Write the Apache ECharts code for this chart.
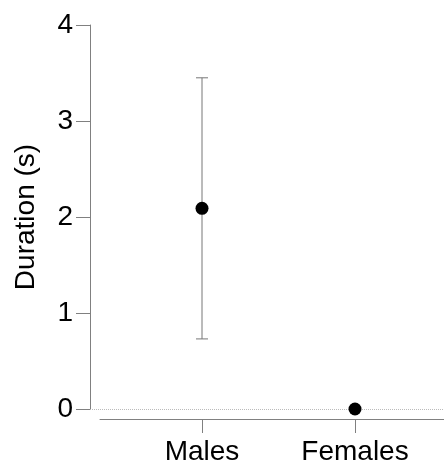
<!DOCTYPE html>
<html>
<head>
<meta charset="utf-8">
<script src="https://cdn.jsdelivr.net/npm/echarts@6/dist/echarts.min.js"></script>
<style>html,body{margin:0;padding:0;background:#fff}#c{width:444px;height:466px}</style>
</head>
<body>
<div id="c"></div>
<script>
var categories = ['Males', 'Females'];
var categoryPos = [1, 2];
var means = [2.09, 0];
var lows = [0.73, 0];
var highs = [3.45, 0];
var yTicks = [0, 1, 2, 3, 4];

var font = 'Liberation Sans, Arial, sans-serif';
var axisGray = '#808080';

var chart = echarts.init(document.getElementById('c'), null, {renderer: 'canvas'});
var pointData = categoryPos.map(function (x, i) { return [x, means[i]]; });
var errData = categoryPos.map(function (x, i) { return [x, lows[i], highs[i]]; });

chart.setOption({
  animation: false,
  backgroundColor: '#fff',
  grid: [
    {left: 90, right: 0, top: 25, bottom: 57},
    {left: 100, right: 0, top: 25, bottom: 45}
  ],
  xAxis: [
    {gridIndex: 0, type: 'value', min: 1 - 112 / 153, max: 1 + 242 / 153, show: false},
    {gridIndex: 1, type: 'value', min: 1 - 102 / 153, max: 1 + 242 / 153,
      splitLine: {show: false},
      axisLine: {show: true, lineStyle: {color: axisGray, width: 1}},
      axisTick: {show: true, length: 14, lineStyle: {color: axisGray}, customValues: categoryPos},
      axisLabel: {show: true, customValues: categoryPos, margin: 19, fontSize: 28, color: '#000', fontFamily: font,
        formatter: function (v) { var i = categoryPos.indexOf(v); return i >= 0 ? categories[i] : ''; }}
    }
  ],
  yAxis: [
    {gridIndex: 0, type: 'value', min: 0, max: 4, interval: 1,
      name: 'Duration (s)', nameLocation: 'middle', nameGap: 50,
      nameTextStyle: {fontSize: 28, color: '#000', fontFamily: font},
      splitLine: {show: false},
      axisLine: {show: true, lineStyle: {color: axisGray, width: 1}},
      axisTick: {show: true, length: 14, lineStyle: {color: axisGray}},
      axisLabel: {margin: 17, fontSize: 28, color: '#000', fontFamily: font,
        formatter: function (v) { return yTicks.indexOf(v) >= 0 ? String(v) : ''; }}
    },
    {gridIndex: 1, type: 'value', min: 0, max: 4, show: false}
  ],
  series: [
    {
      type: 'custom', xAxisIndex: 0, yAxisIndex: 0, data: errData, z: 2,
      renderItem: function (params, api) {
        var x = api.value(0);
        var lo = api.coord([x, api.value(1)]);
        var hi = api.coord([x, api.value(2)]);
        var hw = 6;
        var st = {stroke: '#777', lineWidth: 1};
        return {type: 'group', children: [
          {type: 'line', shape: {x1: lo[0], y1: lo[1], x2: hi[0], y2: hi[1]}, style: st},
          {type: 'line', shape: {x1: lo[0] - hw, y1: lo[1], x2: lo[0] + hw, y2: lo[1]}, style: st},
          {type: 'line', shape: {x1: hi[0] - hw, y1: hi[1], x2: hi[0] + hw, y2: hi[1]}, style: st}
        ]};
      },
      markLine: {silent: true, symbol: 'none', label: {show: false},
        lineStyle: {type: 'dotted', color: '#bbb', width: 1},
        data: [{yAxis: 0}]}
    },
    {
      type: 'scatter', xAxisIndex: 0, yAxisIndex: 0, data: pointData, z: 5,
      symbol: 'circle', symbolSize: 13, itemStyle: {color: '#000', opacity: 1}
    }
  ]
});
</script>
</body>
</html>
